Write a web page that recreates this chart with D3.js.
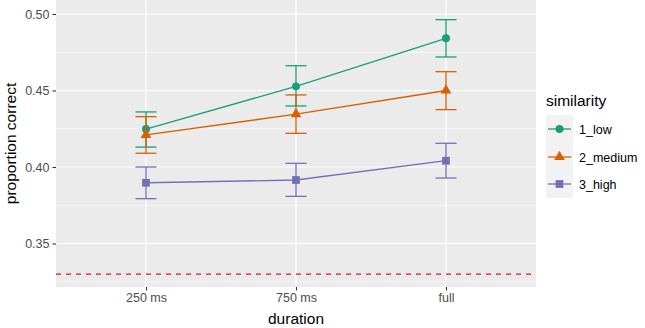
<!DOCTYPE html>
<html><head><meta charset="utf-8">
<script src="https://cdn.jsdelivr.net/npm/d3@7"></script>
<style>body{margin:0;background:#fff}svg{display:block;font-family:"Liberation Sans",Arial,sans-serif}</style>
</head><body><svg id="c" width="645" height="328"></svg>
<script>
const durations = ["250 ms", "750 ms", "full"];
const seriesNames = ["1_low", "2_medium", "3_high"];
const colors = ["#1B9E77", "#D95F02", "#7570B3"];
const shapes = ["circle", "triangle", "square"];
const lowMean = [0.4248, 0.4527, 0.4841];
const lowUpper = [0.4360, 0.4662, 0.4963];
const lowLower = [0.4130, 0.4399, 0.4719];
const medMean = [0.4210, 0.4345, 0.4500];
const medUpper = [0.4329, 0.4471, 0.4623];
const medLower = [0.4090, 0.4220, 0.4375];
const highMean = [0.3897, 0.3915, 0.4041];
const highUpper = [0.4000, 0.4024, 0.4155];
const highLower = [0.3793, 0.3808, 0.3928];
const yTicks = [0.35, 0.40, 0.45, 0.50];
const yMinor = [0.325, 0.375, 0.425, 0.475];
const chanceLevel = 0.33;

const series = [
  {name: seriesNames[0], mean: lowMean, up: lowUpper, lo: lowLower},
  {name: seriesNames[1], mean: medMean, up: medUpper, lo: medLower},
  {name: seriesNames[2], mean: highMean, up: highUpper, lo: highLower}
];

const svg = d3.select("#c");
const P = {l: 56, r: 536, t: 0, b: 287};
const x = d3.scalePoint().domain(durations).range([146, 446]);
const y = d3.scaleLinear().domain([0.35, 0.50]).range([243.5, 14]);

svg.append("rect").attr("x", P.l).attr("y", P.t).attr("width", P.r - P.l).attr("height", P.b - P.t).attr("fill", "#EBEBEB");
const clip = svg.append("g");
clip.selectAll(".ymin").data(yMinor).join("line").attr("x1", P.l).attr("x2", P.r)
  .attr("y1", d => y(d)).attr("y2", d => y(d)).attr("stroke", "#fff").attr("stroke-width", 0.6);
clip.selectAll(".ymaj").data(yTicks).join("line").attr("x1", P.l).attr("x2", P.r)
  .attr("y1", d => y(d)).attr("y2", d => y(d)).attr("stroke", "#fff").attr("stroke-width", 1.2);
clip.selectAll(".xmaj").data(durations).join("line").attr("y1", P.t).attr("y2", P.b)
  .attr("x1", d => x(d)).attr("x2", d => x(d)).attr("stroke", "#fff").attr("stroke-width", 1.2);

// chance line
svg.append("line").attr("x1", P.l).attr("x2", P.r).attr("y1", y(chanceLevel)).attr("y2", y(chanceLevel))
  .attr("stroke", "#E8101A").attr("stroke-width", 1.2).attr("stroke-dasharray", "5,5");

function shapePath(s, size) {
  const sym = s === "circle" ? d3.symbolCircle : s === "triangle" ? d3.symbolTriangle : d3.symbolSquare;
  return d3.symbol().type(sym).size(size)();
}
const sizes = {circle: 50, triangle: 50, square: 60};

series.forEach((s, i) => {
  const g = svg.append("g");
  const c = colors[i];
  // error bars
  durations.forEach((d, j) => {
    const cx = x(d);
    g.append("line").attr("x1", cx).attr("x2", cx).attr("y1", y(s.up[j])).attr("y2", y(s.lo[j])).attr("stroke", c).attr("stroke-width", 1.3);
    [s.up[j], s.lo[j]].forEach(v => g.append("line").attr("x1", cx - 10.5).attr("x2", cx + 10.5)
      .attr("y1", y(v)).attr("y2", y(v)).attr("stroke", c).attr("stroke-width", 1.3));
  });
  g.append("path").attr("d", d3.line().x((d, j) => x(durations[j])).y(d => y(d))(s.mean))
    .attr("fill", "none").attr("stroke", c).attr("stroke-width", 1.3);
  s.mean.forEach((v, j) => {
    g.append("path").attr("d", shapePath(shapes[i], sizes[shapes[i]]))
      .attr("transform", `translate(${x(durations[j])},${y(v)})`).attr("fill", c);
  });
});

// axes
const yAx = svg.append("g").attr("transform", `translate(${P.l},0)`)
  .call(d3.axisLeft(y).tickValues(yTicks).tickFormat(d3.format(".2f")).tickSize(3.5).tickPadding(3));
yAx.select(".domain").remove();
yAx.selectAll("line").attr("stroke", "#333").attr("stroke-width", 1.1);
yAx.selectAll("text").attr("fill", "#4D4D4D").style("font-size", "12.5px").style("font-family", "'Liberation Sans',Arial,sans-serif");

const xAx = svg.append("g").attr("transform", `translate(0,${P.b})`)
  .call(d3.axisBottom(x).tickSize(3.5).tickPadding(3));
xAx.select(".domain").remove();
xAx.selectAll("line").attr("stroke", "#333").attr("stroke-width", 1.1);
xAx.selectAll("text").attr("fill", "#4D4D4D").style("font-size", "12.5px").style("font-family", "'Liberation Sans',Arial,sans-serif");

svg.append("text").attr("x", (P.l + P.r) / 2).attr("y", 324).attr("text-anchor", "middle")
  .style("font-size", "15.5px").attr("fill", "#000").text("duration");
svg.append("text").attr("transform", `translate(16,${(P.t + P.b) / 2}) rotate(-90)`).attr("text-anchor", "middle")
  .style("font-size", "15.5px").attr("fill", "#000").text("proportion correct");

// legend
const L = svg.append("g");
L.append("text").attr("x", 546).attr("y", 106).style("font-size", "15.5px").attr("fill", "#000").text("similarity");
const keyY = [129, 157, 184];
seriesNames.forEach((n, i) => {
  const ky = keyY[i];
  L.append("rect").attr("x", 546).attr("y", ky - 14).attr("width", 27).attr("height", 28).attr("fill", "#F2F2F2");
  L.append("line").attr("x1", 548).attr("x2", 571).attr("y1", ky).attr("y2", ky).attr("stroke", colors[i]).attr("stroke-width", 1.3);
  L.append("path").attr("d", shapePath(shapes[i], sizes[shapes[i]])).attr("transform", `translate(559.5,${ky})`).attr("fill", colors[i]);
  L.append("text").attr("x", 579).attr("y", ky + 4.5).style("font-size", "12.5px").attr("fill", "#000").text(n);
});
</script></body></html>
